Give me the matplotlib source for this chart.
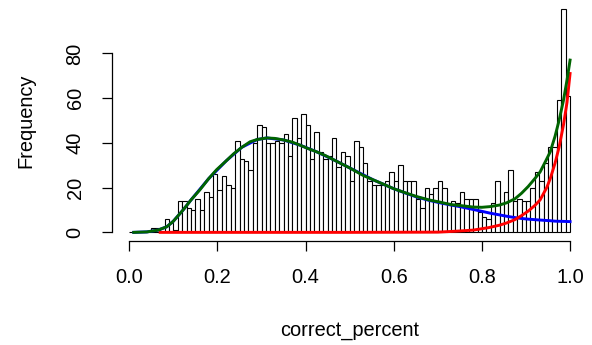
import numpy as np
import matplotlib.pyplot as plt

plt.rcParams['font.family'] = ['Liberation Sans', 'DejaVu Sans']

# histogram counts, 100 bins of width 0.01 on [0, 1]
counts = [0, 0, 0, 0, 0, 2, 2, 0, 6, 4,
          1, 14, 14, 11, 10, 15, 10, 18, 16, 26,
          19, 25, 21, 20, 41, 33, 32, 28, 40, 48,
          47, 40, 40, 41, 40, 44, 34, 51, 42, 53,
          48, 33, 45, 36, 33, 34, 42, 29, 36, 34,
          23, 41, 38, 31, 23, 21, 21, 21, 23, 27,
          23, 30, 23, 23, 23, 15, 11, 20, 17, 20,
          23, 20, 13, 14, 13, 18, 15, 15, 15, 9,
          7, 6, 13, 23, 13, 18, 28, 14, 15, 14,
          14, 20, 27, 23, 31, 38, 38, 59, 100, 61]
bin_edges = np.linspace(0, 1, 101)

# fitted curves
green_x = [0.01, 0.04, 0.065, 0.085, 0.10, 0.122, 0.14, 0.16, 0.18, 0.198,
           0.22, 0.236, 0.255, 0.274, 0.29, 0.312, 0.33, 0.35, 0.37, 0.387,
           0.405, 0.425, 0.445, 0.463, 0.48, 0.50, 0.53, 0.553, 0.577, 0.60,
           0.629, 0.652, 0.68, 0.705, 0.73, 0.75, 0.781, 0.80, 0.818, 0.84,
           0.856, 0.875, 0.89, 0.905, 0.92, 0.932, 0.945, 0.955, 0.966, 0.975,
           0.985, 0.993, 1.0]
green_y = [0, 0.2, 1, 2.5, 5, 10, 14.5, 19, 24, 28,
           32, 35, 38, 40.5, 41.5, 42.2, 42, 41.3, 40.3, 39,
           37.5, 36, 34.3, 32.5, 30.8, 28.8, 25.5, 23.5, 21.5, 19.5,
           17.5, 16, 14.5, 13.5, 12.4, 12, 11.3, 11.2, 11.5, 12.2,
           13.2, 15, 17.5, 20.5, 24, 27, 32, 36, 43, 50,
           59, 68, 77]

blue_x = [0.01, 0.04, 0.065, 0.085, 0.10, 0.122, 0.14, 0.18, 0.22, 0.255,
          0.29, 0.312, 0.35, 0.387, 0.425, 0.463, 0.50, 0.553, 0.60, 0.629,
          0.652, 0.68, 0.705, 0.73, 0.75, 0.781, 0.80, 0.818, 0.84, 0.856,
          0.875, 0.89, 0.905, 0.932, 0.955, 0.966, 0.985, 1.0]
blue_y = [0, 0.2, 1, 2.5, 5, 10, 14.5, 24, 32, 38,
          41.5, 42.2, 41.3, 39, 36, 32.5, 28.8, 23.5, 19.5, 17.4,
          15.8, 14.3, 13.2, 12.2, 11.5, 10.2, 9.4, 8.6, 7.8, 7.2,
          6.6, 6.2, 5.9, 5.5, 5.2, 5.0, 4.9, 4.8]

red_x = [0.07, 0.3, 0.5, 0.70, 0.74, 0.78, 0.815, 0.84, 0.856, 0.875,
         0.89, 0.905, 0.92, 0.932, 0.947, 0.955, 0.966, 0.975, 0.985, 0.993, 1.0]
red_y = [0, 0, 0, 0.1, 0.5, 1.0, 2.1, 3.2, 4.2, 5.7,
         7.5, 9.5, 12, 14.5, 20, 24, 31, 38, 48, 58, 71]

fig = plt.figure(figsize=(5.92, 3.45), dpi=100)
ax = fig.add_axes([111.7 / 592, 1 - 241.3 / 345, 476 / 592, 241.6 / 345])

ax.bar(bin_edges[:-1], counts, width=0.01, align='edge',
       color='white', edgecolor='black', linewidth=0.8)

ax.plot(blue_x, blue_y, color='blue', linewidth=2.1)
ax.plot(red_x, red_y, color='red', linewidth=2.1)
ax.plot(green_x, green_y, color='darkgreen', linewidth=2.1)

ax.set_xlim(-0.04, 1.04)
ax.set_ylim(-4, 104)

# R-style axes: only up to the last tick, no box
for side in ['top', 'right']:
    ax.spines[side].set_visible(False)
ax.spines['bottom'].set_bounds(0, 1)
ax.spines['left'].set_bounds(0, 80)
for side in ['bottom', 'left']:
    ax.spines[side].set_linewidth(0.9)

ax.set_xticks([0, 0.2, 0.4, 0.6, 0.8, 1.0])
ax.set_xticklabels(['0.0', '0.2', '0.4', '0.6', '0.8', '1.0'])
ax.set_yticks([0, 20, 40, 60, 80])
ax.tick_params(axis='x', length=7.5, width=0.9, pad=11.5, labelsize=14.4)
ax.tick_params(axis='y', length=7.5, width=0.9, pad=12, labelsize=14.4)
for lab in ax.get_yticklabels():
    lab.set_rotation(90)
    lab.set_va('center')

ax.set_xlabel('correct_percent', fontsize=14.4, labelpad=25)
ax.set_ylabel('Frequency', fontsize=14.4, labelpad=22)

plt.savefig('out.png', dpi=100)
plt.close()
